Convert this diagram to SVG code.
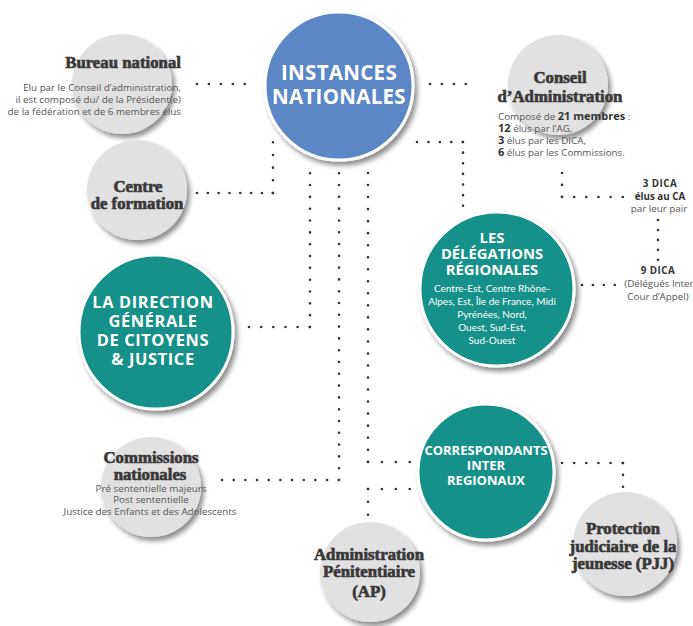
<svg xmlns="http://www.w3.org/2000/svg" width="693" height="626" viewBox="0 0 693 626">
  <defs>
    <filter id="shadow" x="-25%" y="-25%" width="160%" height="160%">
      <feGaussianBlur in="SourceAlpha" stdDeviation="2.6"/>
      <feOffset dx="3" dy="4" result="off"/>
      <feComponentTransfer>
        <feFuncA type="linear" slope="0.45"/>
      </feComponentTransfer>
      <feMerge>
        <feMergeNode/>
        <feMergeNode in="SourceGraphic"/>
      </feMerge>
    </filter>
  </defs>
  <style>
    .grey { fill: #e1e1e1; filter: url(#shadow); }
    .teal { fill: #14918a; stroke: #ffffff; stroke-width: 3; filter: url(#shadow); }
    .blue { fill: #5b87c6; stroke: #ffffff; stroke-width: 3; filter: url(#shadow); }
    .title { font-family: "Liberation Serif", "DejaVu Serif", serif; font-weight: 700; font-size: 16.8px; fill: #383838; stroke: #383838; stroke-width: 0.65; }
    .desc { font-family: "Open Sans", "Liberation Sans", sans-serif; font-size: 9.8px; fill: #555555; }
    .strong { font-weight: 700; fill: #333333; }
    .caps { font-family: "Open Sans", "Liberation Sans", sans-serif; font-weight: 700; fill: #ffffff; text-anchor: middle; }
    .small { font-family: Lato, "Open Sans", sans-serif; font-size: 10px; fill: #ffffff; text-anchor: middle; }
    .mid { text-anchor: middle; }
    .end { text-anchor: end; }
    .dots { fill: none; stroke: #333333; stroke-width: 2.6; stroke-linecap: round; stroke-dasharray: 0 1; }
  </style>

  <rect width="693" height="626" fill="#ffffff"/>

  <!-- dotted connectors -->
  <g id="connectors" class="dots">
    <path d="M197,84H245" pathLength="4.02"/>
    <path d="M430,84H466" pathLength="3.02"/>
    <path d="M197,193H273" pathLength="7.02"/>
    <path d="M273,193V142" pathLength="4.02"/>
    <path d="M417,142H463" pathLength="4.02"/>
    <path d="M463,142V206" pathLength="6.02"/>
    <path d="M249,327H310" pathLength="5.02"/>
    <path d="M310,327V173" pathLength="13.02"/>
    <path d="M222,480H339" pathLength="10.02"/>
    <path d="M339,480V173" pathLength="26.02"/>
    <path d="M368,173V462" pathLength="24.02"/>
    <path d="M368,462H410" pathLength="3.02"/>
    <path d="M368,489H410" pathLength="3.02"/>
    <path d="M368,489V515" pathLength="2.02"/>
    <path d="M562,463H623" pathLength="5.02"/>
    <path d="M623,463V487" pathLength="2.02"/>
    <path d="M562,173V197" pathLength="2.02"/>
    <path d="M562,197H623" pathLength="5.02"/>
    <path d="M658,220V260" pathLength="4.02"/>
    <path d="M582,285H615" pathLength="3.02"/>
  </g>

  <!-- central node -->
  <g id="instances-nationales">
    <circle class="blue" cx="339" cy="86" r="74"/>
    <text class="caps" x="339" y="80" font-size="20.5" letter-spacing="0.3">INSTANCES</text>
    <text class="caps" x="339" y="104" font-size="20.5" letter-spacing="0.3">NATIONALES</text>
  </g>

  <g id="bureau-national">
    <circle class="grey" cx="122" cy="84" r="50"/>
    <text class="title end" x="181" y="68">Bureau national</text>
    <text class="desc end" x="181" y="91">Elu par le Conseil d’administration,</text>
    <text class="desc end" x="181" y="103">il est composé du/ de la Président(e)</text>
    <text class="desc end" x="181" y="115">de la fédération et de 6 membres élus</text>
  </g>

  <g id="centre-formation">
    <circle class="grey" cx="137" cy="190" r="50"/>
    <text class="title mid" x="138" y="192">Centre</text>
    <text class="title mid" x="137" y="209">de formation</text>
  </g>

  <g id="conseil-administration">
    <circle class="grey" cx="558" cy="85" r="50"/>
    <text class="title mid" x="560" y="83">Conseil</text>
    <text class="title mid" x="560" y="102">d’Administration</text>
    <text class="desc" x="498" y="120" font-size="10">Composé de <tspan class="strong" font-size="11">21 membres</tspan> :</text>
    <text class="desc" x="498" y="132" font-size="10"><tspan class="strong" font-size="11">12</tspan> élus par l’AG,</text>
    <text class="desc" x="498" y="144" font-size="10"><tspan class="strong" font-size="11">3</tspan> élus par les DICA,</text>
    <text class="desc" x="498" y="156" font-size="10"><tspan class="strong" font-size="11">6</tspan> élus par les Commissions.</text>
  </g>

  <g id="dica-ca">
    <text class="desc mid strong" x="660" y="187" font-size="8.7" letter-spacing="0.5">3 DICA</text>
    <text class="desc mid strong" x="660" y="200" font-size="8.7">élus au CA</text>
    <text class="desc mid" x="659" y="212" font-size="9.8">par leur pair</text>
  </g>

  <g id="dica-delegues">
    <text class="desc mid strong" x="658" y="274" font-size="8.7" letter-spacing="0.5">9 DICA</text>
    <text class="desc mid" x="659" y="287" font-size="9.6">(Délégués Inter</text>
    <text class="desc mid" x="658" y="300" font-size="9.6">Cour d’Appel)</text>
  </g>

  <g id="delegations-regionales">
    <circle class="teal" cx="497" cy="289" r="77"/>
    <text class="caps" x="492" y="243" font-size="14.8">LES</text>
    <text class="caps" x="492" y="259" font-size="14.8">DÉLÉGATIONS</text>
    <text class="caps" x="492" y="275" font-size="14.8">RÉGIONALES</text>
    <text class="small" x="492" y="292">Centre-Est, Centre Rhône-</text>
    <text class="small" x="492" y="305">Alpes, Est, Île de France, Midi</text>
    <text class="small" x="492" y="318">Pyrénées, Nord,</text>
    <text class="small" x="492" y="331">Ouest, Sud-Est,</text>
    <text class="small" x="492" y="344">Sud-Ouest</text>
  </g>

  <g id="direction-generale">
    <circle class="teal" cx="156" cy="332" r="77"/>
    <text class="caps" x="153" y="308" font-size="16.4" letter-spacing="0.6">LA DIRECTION</text>
    <text class="caps" x="153" y="327" font-size="16.4" letter-spacing="0.6">GÉNÉRALE</text>
    <text class="caps" x="153" y="346" font-size="16.4" letter-spacing="0.6">DE CITOYENS</text>
    <text class="caps" x="153" y="365" font-size="16.4" letter-spacing="0.6">&amp; JUSTICE</text>
  </g>

  <g id="commissions-nationales">
    <circle class="grey" cx="151" cy="487" r="50"/>
    <text class="title mid" x="151" y="463">Commissions</text>
    <text class="title mid" x="150" y="480">nationales</text>
    <text class="desc mid" x="151" y="492" font-size="9.5">Pré sententielle majeurs</text>
    <text class="desc mid" x="151" y="503" font-size="9.5">Post sententielle</text>
    <text class="desc mid" x="150" y="515" font-size="9.5">Justice des Enfants et des Adolescents</text>
  </g>

  <g id="correspondants-inter-regionaux">
    <circle class="teal" cx="486" cy="472" r="68"/>
    <text class="caps" x="486" y="455" font-size="13">CORRESPONDANTS</text>
    <text class="caps" x="486" y="470" font-size="13">INTER</text>
    <text class="caps" x="486" y="485" font-size="13">REGIONAUX</text>
  </g>

  <g id="administration-penitentiaire">
    <circle class="grey" cx="370" cy="572" r="50"/>
    <text class="title mid" x="369" y="560">Administration</text>
    <text class="title mid" x="369" y="577">Pénitentiaire</text>
    <text class="title mid" x="369" y="597">(AP)</text>
  </g>

  <g id="protection-judiciaire-jeunesse">
    <circle class="grey" cx="625" cy="544" r="52"/>
    <text class="title mid" x="623" y="534">Protection</text>
    <text class="title mid" x="623" y="552">judiciaire de la</text>
    <text class="title mid" x="623" y="569">jeunesse (PJJ)</text>
  </g>
</svg>
